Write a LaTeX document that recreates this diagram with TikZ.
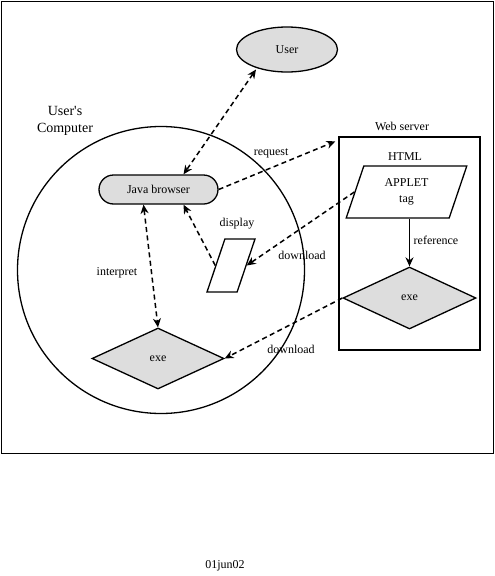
\documentclass[tikz,border=0pt]{standalone}
\usepackage{fontspec}
\setmainfont{Liberation Serif}[Ligatures=TeXOff]
\usetikzlibrary{shapes.geometric,arrows.meta,calc}
\definecolor{shade}{HTML}{DDDDDD}
\begin{document}
\begin{tikzpicture}[x=1pt,y=-1pt,
  font=\fontsize{12}{14}\selectfont,
  shp/.style={draw, line width=1.3pt, inner sep=0pt},
  para/.style={shp, inner sep=2pt, trapezium, trapezium left angle=72, trapezium right angle=108, trapezium stretches=true},
  dia/.style={shp, diamond, fill=shade},
  dar/.style={line width=1.5pt, dash pattern=on 5pt off 3.5pt},
  tip/.style={-{Stealth[length=9pt,width=8pt]}},
  btip/.style={{Stealth[length=9pt,width=8pt]}-{Stealth[length=9pt,width=8pt]}},
  lbl/.style={inner sep=0pt}]
\useasboundingbox (0,0) rectangle (495,576);
\draw[line width=1.5pt] (1.5,1.5) rectangle (493.5,453.5);

% user's computer
\node[shp, circle, minimum size=287pt] (comp) at (161,270) {};
\node[lbl, align=center, font=\fontsize{14}{17}\selectfont] (complbl) at (65,121) {User's\\Computer};

% user
\node[shp, ellipse, fill=shade, minimum width=101pt, minimum height=45pt] (user) at (287,49.5) {User};

% browser
\node[shp, rectangle, rounded corners=14.5pt, fill=shade, minimum width=119pt, minimum height=29pt] (browser) at (158.5,189.5) {Java browser};

% display
\node[para, minimum width=48pt, minimum height=53pt] (disp) at (231,265.5) {\strut};
\node[lbl] (displbl) at (237,224) {display};

% client exe
\node[dia, minimum width=132pt, minimum height=61pt] (cexe) at (158,358.5) {exe};

% web server
\node[shp, rectangle, minimum width=141pt, minimum height=213pt] (srv) at (409.5,243.5) {};
\node[lbl] (srvlbl) at (402,126) {Web server};
\node[lbl] (html) at (405,157) {HTML};
\node[para, minimum width=121pt, minimum height=52pt, align=center, font=\fontsize{12}{16}\selectfont] (applet) at (406.5,192) {APPLET\\tag};
\node[dia, minimum width=133pt, minimum height=62pt] (sexe) at (409.5,298) {exe};

% connectors
\draw[dar, btip] ([xshift=-31pt,yshift=-20pt]user.center) -- ([xshift=25pt]browser.north);
\draw[dar, tip] (browser.east) -- ([xshift=-3pt,yshift=-5pt]srv.north west)
  node[lbl, pos=0.45, above=9pt] (reqlbl) {request};
\draw[dar, tip] (applet.left side) -- (disp.right side);
\node[lbl] (dl1) at (302,255) {download};
\draw[dar, tip] (disp.left side) -- ([xshift=25pt]browser.south);
\draw[dar, btip] ([xshift=-15pt]browser.south) -- (cexe.north);
\node[lbl] (interp) at (117,273) {interpret};
\draw[line width=1.3pt, tip] (sexe.north |- applet.bottom side) -- (sexe.north);
\node[lbl] (ref) at (436,240) {reference};
\draw[dar, tip] (sexe.west) -- (cexe.east);
\node[lbl] (dl2) at (291,349) {download};

\node[lbl] (date) at (225,566) {01jun02};
\end{tikzpicture}
\end{document}
